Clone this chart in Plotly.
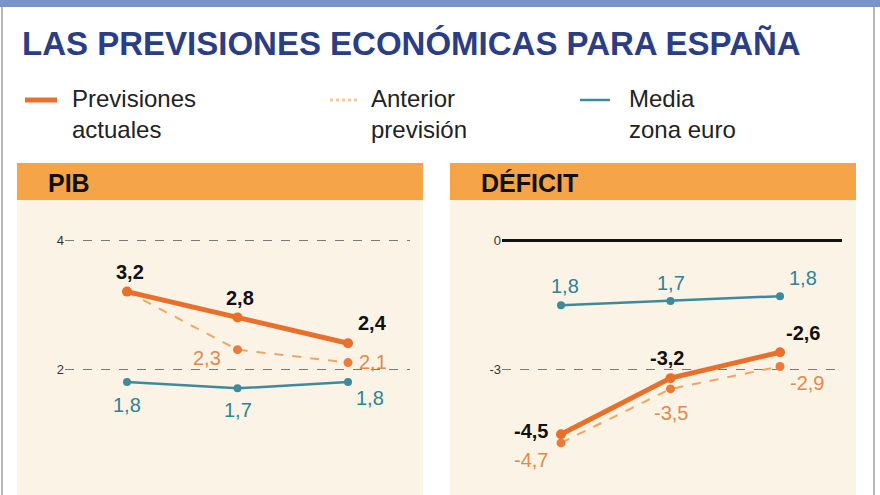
import plotly.graph_objects as go

# ---------------- data ----------------
periods = [0, 1, 2]
pib_actual = [3.2, 2.8, 2.4]
pib_anterior = [3.2, 2.3, 2.1]
pib_euro = [1.8, 1.7, 1.8]
pib_actual_lbl = ["3,2", "2,8", "2,4"]
pib_anterior_lbl = ["", "2,3", "2,1"]
pib_euro_lbl = ["1,8", "1,7", "1,8"]

def_actual = [-4.5, -3.2, -2.6]
def_anterior = [-4.7, -3.45, -2.93]
def_euro = [-1.51, -1.41, -1.30]
def_actual_lbl = ["-4,5", "-3,2", "-2,6"]
def_anterior_lbl = ["-4,7", "-3,5", "-2,9"]
def_euro_lbl = ["1,8", "1,7", "1,8"]

pib_ticks = [0, 2, 4]
pib_ticktext = ["0", "2", "4"]
def_ticks = [-6, -3, 0]
def_ticktext = ["-6", "-3", "0"]

title = "LAS PREVISIONES ECONÓMICAS PARA ESPAÑA"
legend_items = [("Previsiones<br>actuales", "actual"),
                ("Anterior<br>previsión", "anterior"),
                ("Media<br>zona euro", "euro")]

# ---------------- styles ----------------
W, H = 880, 495
C_ACT = "#e8702a"
C_ANT = "#f0a560"
C_ANT_M = "#e97c3c"
C_ANT_T = "#e2894c"
C_EURO = "#3d8a9c"
C_EURO_T = "#2f8394"
C_PANEL = "#fbf4e6"
C_HEAD = "#f5a447"
FONT = "Liberation Sans, Arial, sans-serif"

def px(x):
    return x / W

def py(y):
    return 1 - y / H

fig = go.Figure()

def add_series(xa, ya, xs, ys, color, width, dash, msize, mcolor):
    fig.add_trace(go.Scatter(
        x=xs, y=ys, xaxis=xa, yaxis=ya, mode="lines+markers",
        line=dict(color=color, width=width, dash=dash),
        marker=dict(color=mcolor, size=msize),
        hoverinfo="skip", showlegend=False))

# PIB panel
add_series("x", "y", periods, pib_euro, C_EURO, 2.5, "solid", 8, C_EURO)
add_series("x", "y", periods, pib_anterior, C_ANT, 2, "dash", 9, C_ANT_M)
add_series("x", "y", periods, pib_actual, C_ACT, 5, "solid", 10, C_ACT)
# Deficit panel
add_series("x2", "y2", periods, def_euro, C_EURO, 2.5, "solid", 8, C_EURO)
add_series("x2", "y2", periods, def_anterior, C_ANT, 2, "dash", 9, C_ANT_M)
add_series("x2", "y2", periods, def_actual, C_ACT, 5, "solid", 10, C_ACT)

annotations = []

def add_labels(xref, yref, ys, labels, shifts, color, bold):
    for xv, yv, lab, (dx, dy) in zip(periods, ys, labels, shifts):
        if not lab:
            continue
        txt = f"<b>{lab}</b>" if bold else lab
        annotations.append(dict(
            x=xv, y=yv, xref=xref, yref=yref, text=txt, showarrow=False,
            xshift=dx, yshift=dy, xanchor="center", yanchor="middle",
            font=dict(family=FONT, size=20, color=color)))

add_labels("x", "y", pib_actual, pib_actual_lbl, [(3, 20), (2, 19), (24, 20)], "#111", True)
add_labels("x", "y", pib_anterior, pib_anterior_lbl, [(0, 0), (-31, -8), (25, 1)], C_ANT_T, False)
add_labels("x", "y", pib_euro, pib_euro_lbl, [(0, -23), (0, -22), (22, -16)], C_EURO_T, False)

add_labels("x2", "y2", def_euro, def_euro_lbl, [(4, 19), (0, 18), (23, 18)], C_EURO_T, False)
add_labels("x2", "y2", def_actual, def_actual_lbl, [(-30, 3), (-4, 20), (23, 19)], "#111", True)
add_labels("x2", "y2", def_anterior, def_anterior_lbl, [(-30, -17), (0, -24), (27, -17)], C_ANT_T, False)

# title
annotations.append(dict(x=px(20), y=py(43), xref="paper", yref="paper", text=f"<b>{title}</b>",
                        showarrow=False, xanchor="left", yanchor="middle",
                        font=dict(family=FONT, size=33, color="#2b3d84")))

shapes = []
# top bar and borders
shapes.append(dict(type="rect", xref="paper", yref="paper", x0=0, x1=1, y0=py(7), y1=1,
                   fillcolor="#7a94c8", line=dict(width=0), layer="below"))
shapes.append(dict(type="line", xref="paper", yref="paper", x0=px(2), x1=px(2), y0=0, y1=py(7),
                   line=dict(color="#b8b8b8", width=2)))
shapes.append(dict(type="line", xref="paper", yref="paper", x0=px(874), x1=px(874), y0=0, y1=py(7),
                   line=dict(color="#b8b8b8", width=2)))

# legend
leg_x = [(25, 57, 70), (330, 360, 369), (580, 610, 627)]
for (label, kind), (lx0, lx1, tx) in zip(legend_items, leg_x):
    if kind == "actual":
        ln = dict(color=C_ACT, width=5)
    elif kind == "anterior":
        ln = dict(color="#f6c99a", width=3, dash="dot")
    else:
        ln = dict(color=C_EURO, width=2.5)
    shapes.append(dict(type="line", xref="paper", yref="paper", x0=px(lx0), x1=px(lx1),
                       y0=py(100), y1=py(100), line=ln))
    annotations.append(dict(x=px(tx), y=py(114), xref="paper", yref="paper", text=label,
                            showarrow=False, xanchor="left", yanchor="middle", align="left",
                            font=dict(family=FONT, size=24, color="#222")))

# panels
for (x0, x1, name) in [(17, 423, "PIB"), (450, 856, "DÉFICIT")]:
    shapes.append(dict(type="rect", xref="paper", yref="paper", x0=px(x0), x1=px(x1),
                       y0=0, y1=py(200), fillcolor=C_PANEL, line=dict(width=0), layer="below"))
    shapes.append(dict(type="rect", xref="paper", yref="paper", x0=px(x0), x1=px(x1),
                       y0=py(200), y1=py(163), fillcolor=C_HEAD, line=dict(width=0), layer="below"))
    annotations.append(dict(x=px(x0 + 29), y=py(183), xref="paper", yref="paper",
                            text=f"<b>{name}</b>", showarrow=False, xanchor="left",
                            yanchor="middle", font=dict(family=FONT, size=25, color="#111")))

axis_common = dict(showline=False, ticks="", showgrid=True, gridcolor="#7a7a7a",
                   griddash="dash", gridwidth=1.2,
                   tickfont=dict(family=FONT, size=13, color="#333"))

fig.update_layout(
    width=W, height=H, margin=dict(l=0, r=0, t=0, b=0),
    paper_bgcolor="white", plot_bgcolor="rgba(0,0,0,0)",
    showlegend=False, shapes=shapes, annotations=annotations,
    xaxis=dict(domain=[px(65), px(410)], range=[-0.561, 2.561], visible=False),
    xaxis2=dict(domain=[px(502), px(842)], range=[-0.539, 2.566], visible=False),
    yaxis=dict(domain=[0, py(200)], range=[0.047, 4.62], tickvals=pib_ticks,
               ticktext=pib_ticktext, zeroline=False, anchor="x", **axis_common),
    yaxis2=dict(domain=[0, py(200)], range=[-5.907, 0.927], tickvals=def_ticks,
                ticktext=def_ticktext, zeroline=True, zerolinecolor="#111",
                zerolinewidth=2.5, anchor="x2", **axis_common),
)

fig.write_html("out.html", config={"displayModeBar": False},
               post_script="document.body.style.margin='0';")
